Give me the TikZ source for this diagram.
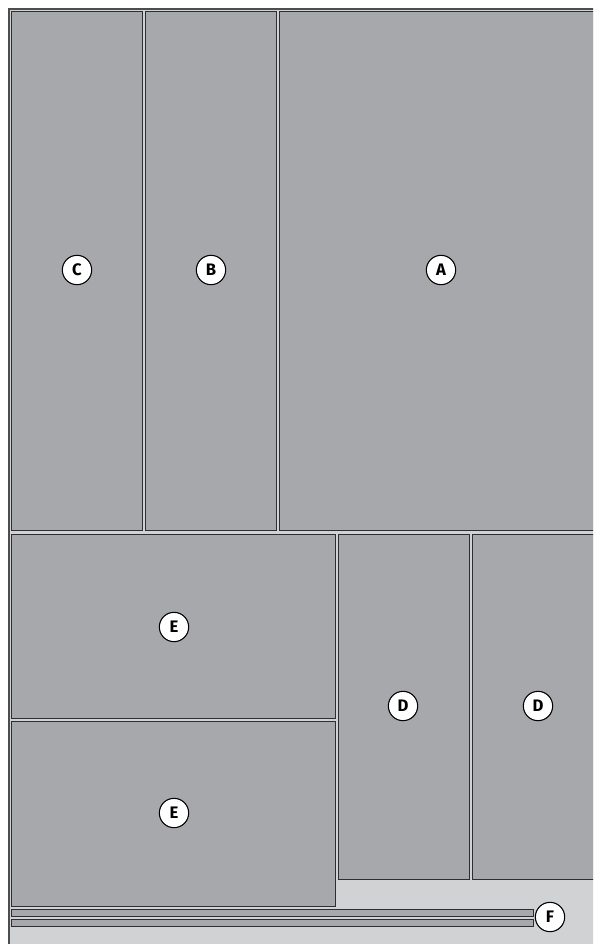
\documentclass[tikz,border=0pt]{standalone}
\usepackage{fontspec}
\setsansfont{Fira Sans}
\usepackage{xcolor}
\usepackage{tikz}
\definecolor{panelgray}{HTML}{A7A8AC}
\definecolor{backgray}{HTML}{D1D2D4}
\definecolor{edgegray}{HTML}{2E2E30}
\tikzset{
  panel/.style={fill=panelgray, draw=edgegray, line width=0.7pt},
  strip/.style={fill=panelgray, draw=edgegray, line width=0.7pt},
  tag/.style={circle, fill=white, draw=black, line width=0.8pt, minimum size=22pt,
    inner sep=0pt, font=\sffamily\bfseries\fontsize{12.5}{14}\selectfont}
}

\begin{document}
\begin{tikzpicture}[x=0.75pt, y=-0.75pt]
    \useasboundingbox (0,0) rectangle (593,944);
    \clip (0,0) rectangle (593,944);
    % container
    \fill[white] (0,0) rectangle (593,944);
    \draw[fill=backgray, draw=edgegray!85, line width=1.6pt] (9,9) rectangle (600,950);
    % upper row
    \draw[panel] (11.5,11) rectangle (142.5,530.5);
    \draw[panel] (145,11) rectangle (276.5,530.5);
    \draw[panel] (279,11) rectangle (600,530.5);
    % lower left pair
    \draw[panel] (11.5,534) rectangle (335,718.5);
    \draw[panel] (11.5,721.5) rectangle (335,906.5);
    % lower right pair
    \draw[panel] (338,534) rectangle (469.5,879.5);
    \draw[panel] (472,534) rectangle (600,879.5);
    % strips
    \draw[strip] (11.5,909.5) rectangle (533,916);
    \draw[strip] (11.5,919.5) rectangle (533,926);
    % labels
    \node[tag] (c) at (77,270) {C};
    \node[tag] (b) at (211,270) {B};
    \node[tag] (a) at (441,270) {A};
    \node[tag] (e1) at (174,627) {E};
    \node[tag] (e2) at (174,813) {E};
    \node[tag] (d1) at (403,706) {D};
    \node[tag] (d2) at (538,706) {D};
    \node[tag] (f) at (550,917) {F};
\end{tikzpicture}
\end{document}
